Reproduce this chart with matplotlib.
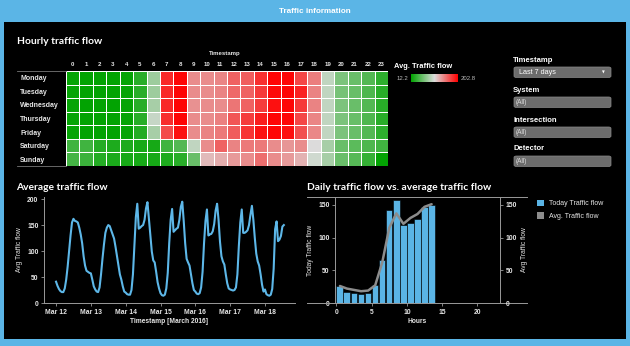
import numpy as np
import pandas as pd
import matplotlib
matplotlib.use("Agg")
import matplotlib.pyplot as plt
from matplotlib.colors import LinearSegmentedColormap
from matplotlib.patches import Rectangle, FancyBboxPatch, Patch

# ---------------- data ----------------
days = ["Monday", "Tuesday", "Wednesday", "Thursday", "Friday", "Saturday", "Sunday"]
hours = list(range(24))
heat_mon = [15, 13, 13, 13, 15, 30, 80, 185, 200, 142, 142, 145, 160, 162, 182, 200, 200, 172, 148, 95, 66, 58, 48, 32]
heat_tue = [15, 13, 13, 13, 15, 30, 80, 185, 200, 142, 142, 146, 157, 160, 178, 198, 200, 188, 146, 95, 64, 57, 46, 30]
heat_wed = [15, 13, 13, 13, 15, 30, 85, 185, 200, 140, 142, 142, 152, 160, 176, 196, 200, 178, 146, 96, 66, 58, 48, 30]
heat_thu = [15, 13, 13, 13, 15, 30, 98, 183, 200, 142, 142, 147, 165, 176, 190, 200, 200, 172, 145, 95, 66, 57, 46, 30]
heat_fri = [15, 13, 13, 13, 15, 28, 85, 170, 195, 142, 146, 150, 162, 180, 195, 200, 196, 168, 144, 96, 66, 58, 48, 32]
heat_sat = [40, 40, 28, 25, 25, 22, 22, 40, 48, 95, 142, 160, 146, 150, 150, 142, 138, 142, 108, 85, 58, 52, 46, 40]
heat_sun = [42, 38, 28, 24, 22, 22, 22, 25, 30, 58, 122, 128, 136, 142, 155, 142, 136, 126, 102, 85, 58, 50, 36, 14]
heat_min, heat_max = 12.2, 202.8

# hourly average flow, Mar 12 - Mar 18 2016
flow_mar12 = [41, 33, 27, 23, 21, 21, 28, 45, 70, 100, 130, 155, 162, 158, 157, 155, 145, 132, 115, 90, 72, 62, 60, 58]
flow_mar13 = [57, 45, 32, 26, 22, 21, 30, 55, 85, 112, 135, 145, 150, 148, 140, 132, 124, 108, 90, 72, 55, 45, 32, 22]
flow_mar14 = [20, 17, 16, 16, 25, 55, 110, 165, 191, 143, 145, 148, 150, 160, 182, 194, 162, 128, 99, 82, 78, 60, 40, 28]
flow_mar15 = [19, 15, 14, 16, 28, 58, 115, 160, 181, 137, 140, 143, 145, 160, 185, 195, 158, 115, 85, 78, 72, 55, 38, 25]
flow_mar16 = [22, 18, 17, 19, 30, 60, 115, 158, 180, 130, 132, 133, 138, 152, 178, 191, 160, 118, 90, 80, 74, 55, 38, 28]
flow_mar17 = [26, 25, 24, 25, 30, 55, 110, 155, 180, 135, 135, 137, 140, 150, 170, 187, 160, 125, 95, 80, 72, 55, 35, 22]
today_hours = list(range(14))
today_flow = [26, 17, 15, 14, 16, 27, 66, 142, 157, 119, 122, 129, 147, 150]
avg_flow = [26, 22, 20, 18, 19, 27, 62, 115, 137, 121, 130, 136, 147, 151]
date_ticks = ["2016-03-12", "2016-03-13", "2016-03-14", "2016-03-15", "2016-03-16", "2016-03-17", "2016-03-18"]
date_labels = ["Mar 12", "Mar 13", "Mar 14", "Mar 15", "Mar 16", "Mar 17", "Mar 18"]

filters = [("Timestamp", "Last 7 days"), ("System", "(All)"), ("Intersection", "(All)"), ("Detector", "(All)")]

# ---------------- figure ----------------
W, H = 630, 346
BLUE = "#5BB5E6"
TXT = "#e6e6e6"
AX = "#9a9a9a"
FONT = "Liberation Sans"
TFONT = "Lato"

fig = plt.figure(figsize=(W / 100, H / 100), dpi=100, facecolor=BLUE)


def axes_px(l, t, r, b):
    return fig.add_axes([l / W, 1 - b / H, (r - l) / W, (b - t) / H])


def ftext(x, y, s, **kw):
    return fig.text(x / W, 1 - y / H, s, **kw)


fig.add_artist(Rectangle((4 / W, 1 - 339 / H), 622 / W, (339 - 22) / H,
                         transform=fig.transFigure, facecolor="black", edgecolor="none", zorder=0))
ftext(315, 11.5, "Traffic information", ha="center", va="center", color="white",
      fontsize=5.9, fontweight="bold", family=FONT)

# ---------------- heatmap ----------------
cmap = LinearSegmentedColormap.from_list("rg", [(0.0, "#00A300"), (0.5, "#DCDCDC"), (1.0, "#FF0000")])
heat = np.array([heat_mon, heat_tue, heat_wed, heat_thu, heat_fri, heat_sat, heat_sun])
axh = axes_px(66, 71, 388, 166)
axh.pcolormesh(heat, cmap=cmap, vmin=heat_min, vmax=heat_max, edgecolors="white", linewidth=0.6)
axh.set_ylim(len(days), 0)
axh.set_xlim(0, 24)
axh.xaxis.tick_top()
axh.set_xticks(np.arange(24) + 0.5, [str(h) for h in hours])
axh.set_yticks(np.arange(7) + 0.5, days)
axh.tick_params(axis="x", length=0, pad=3.2, labelsize=4.4, labelcolor=TXT)
axh.tick_params(axis="y", length=0, pad=33, labelsize=5.0, labelcolor=TXT)
for lb in axh.get_xticklabels() + axh.get_yticklabels():
    lb.set_fontweight("bold")
    lb.set_family(FONT)
for lb in axh.get_yticklabels():
    lb.set_horizontalalignment("left")
for s in axh.spines.values():
    s.set_visible(False)
for yy in (0, 1):
    axh.plot([-49 / 322, 0], [yy, yy], transform=axh.transAxes, color="#777777", lw=0.6, clip_on=False)

ftext(17, 41, "Hourly traffic flow", ha="left", va="center", color="white", fontsize=7.4, fontweight="bold", family=TFONT)
ftext(225, 53, "Timestamp", ha="center", va="center", color=TXT, fontsize=4.3, fontweight="bold", family=FONT)

# colour legend
ftext(394, 66, "Avg. Traffic flow", ha="left", va="center", color="white", fontsize=5.4, fontweight="bold", family=FONT)
axc = axes_px(411, 74, 458, 82)
axc.imshow(np.linspace(heat_min, heat_max, 256)[None, :], cmap=cmap, vmin=heat_min, vmax=heat_max, aspect="auto")
axc.set_axis_off()
ftext(408, 78, f"{heat_min}", ha="right", va="center", color="#bbbbbb", fontsize=4.3, family=FONT)
ftext(461, 78, f"{heat_max}", ha="left", va="center", color="#bbbbbb", fontsize=4.3, family=FONT)

# ---------------- filters ----------------
label_y = [60, 90, 120, 149]
for (name, val), ly in zip(filters, label_y):
    ftext(513, ly, name, ha="left", va="center", color="white", fontsize=5.5, fontweight="bold", family=FONT)
    top = ly + 7
    box = FancyBboxPatch((514 / W, 1 - (top + 10.5) / H), 97 / W, 10.5 / H,
                         boxstyle="round,pad=0,rounding_size=0.004", transform=fig.transFigure,
                         facecolor="#6c6c6c", edgecolor="#8a8a8a", lw=0.5)
    fig.add_artist(box)
    if val == "Last 7 days":
        ftext(519, top + 5.3, val, ha="left", va="center", color="white", fontsize=5.2, family=FONT)
        ftext(603, top + 5.6, "\u25BC", ha="center", va="center", color="white", fontsize=2.6, family="DejaVu Sans")
    else:
        ftext(516, top + 5.3, val, ha="left", va="center", color="#dddddd", fontsize=4.7, family=FONT)

# ---------------- line chart ----------------
flow = flow_mar12 + flow_mar13 + flow_mar14 + flow_mar15 + flow_mar16 + flow_mar17 + today_flow
times = pd.date_range("2016-03-12", periods=len(flow), freq="h")
axl = axes_px(44, 197, 295, 303)
axl.set_facecolor("black")
axl.plot(times, flow, color="#5DB7E8", lw=1.5, solid_joinstyle="round")
tick_dates = pd.to_datetime(date_ticks)
axl.set_xticks(tick_dates, date_labels)
axl.set_xlim(tick_dates[0] - pd.Timedelta(hours=8.3), tick_dates[-1] + pd.Timedelta(hours=20.7))
axl.set_ylim(0, 204)
axl.set_yticks([0, 50, 100, 150, 200])
for s in ("top", "right"):
    axl.spines[s].set_visible(False)
for s in ("left", "bottom"):
    axl.spines[s].set_color(AX)
    axl.spines[s].set_linewidth(0.7)
axl.tick_params(length=2, width=0.6, color=AX, labelsize=4.9, labelcolor=TXT, pad=2)
for lb in axl.get_xticklabels() + axl.get_yticklabels():
    lb.set_fontweight("bold")
    lb.set_family(FONT)
axl.set_xlabel("Timestamp [March 2016]", fontsize=4.8, color=TXT, fontweight="bold", family=FONT, labelpad=2)
axl.set_ylabel("Avg Traffic flow", fontsize=4.8, color=TXT, family=FONT, labelpad=3)
ftext(16, 188, "Average traffic flow", ha="left", va="center", color="white", fontsize=7.4, fontweight="bold", family=TFONT)

# ---------------- bar chart ----------------
BAR = "#5AB4E5"
GRAY = "#8c8c8c"
axb = axes_px(335, 197, 500, 303)
axb.set_facecolor("black")
axb.bar(today_hours, today_flow, width=0.95, align="edge", color=BAR, edgecolor="black", lw=0.4)
axb.set_xlim(-0.2, 23.2)
axb.set_ylim(0, 162)
axb.set_xticks([0, 5, 10, 15, 20])
axb.set_yticks([0, 50, 100, 150])
axb2 = axb.twinx()
axb2.plot(np.array(today_hours) + 0.5, avg_flow, color=GRAY, lw=1.8, solid_joinstyle="round", solid_capstyle="round")
axb2.set_ylim(0, 162)
axb2.set_yticks([0, 50, 100, 150])
for a in (axb, axb2):
    for s in a.spines.values():
        s.set_visible(False)
    a.tick_params(length=2, width=0.6, color=AX, labelsize=4.9, labelcolor=TXT, pad=2)
    for lb in a.get_xticklabels() + a.get_yticklabels():
        lb.set_fontweight("bold")
        lb.set_family(FONT)
axb.spines["left"].set_visible(True)
axb.spines["left"].set_color(AX)
axb.spines["left"].set_linewidth(0.7)
axb2.spines["right"].set_visible(True)
axb2.spines["right"].set_color(AX)
axb2.spines["right"].set_linewidth(0.7)
for yy in (0, 1):
    axb.plot([-28 / 165, 192 / 165], [yy, yy], transform=axb.transAxes, color=AX, lw=0.7, clip_on=False)
axb.set_xlabel("Hours", fontsize=4.8, color=TXT, fontweight="bold", family=FONT, labelpad=2)
axb.set_ylabel("Today Traffic flow", fontsize=4.8, color=TXT, family=FONT, labelpad=3)
axb2.set_ylabel("Avg Traffic flow", fontsize=4.8, color=TXT, family=FONT, labelpad=3)
ftext(307, 188, "Daily traffic flow vs. average traffic flow", ha="left", va="center", color="white",
      fontsize=7.4, fontweight="bold", family=TFONT)
fig.legend(handles=[Patch(facecolor=BAR), Patch(facecolor=GRAY)],
           labels=["Today Traffic flow", "Avg. Traffic flow"], loc="upper left",
           bbox_to_anchor=(534 / W, 1 - 197 / H), frameon=False, labelcolor=TXT,
           handlelength=1.1, handleheight=1.1, handletextpad=0.6, labelspacing=0.7, borderaxespad=0,
           prop={"family": FONT, "size": 5.0})

fig.savefig("out.png", dpi=100, facecolor=BLUE)
